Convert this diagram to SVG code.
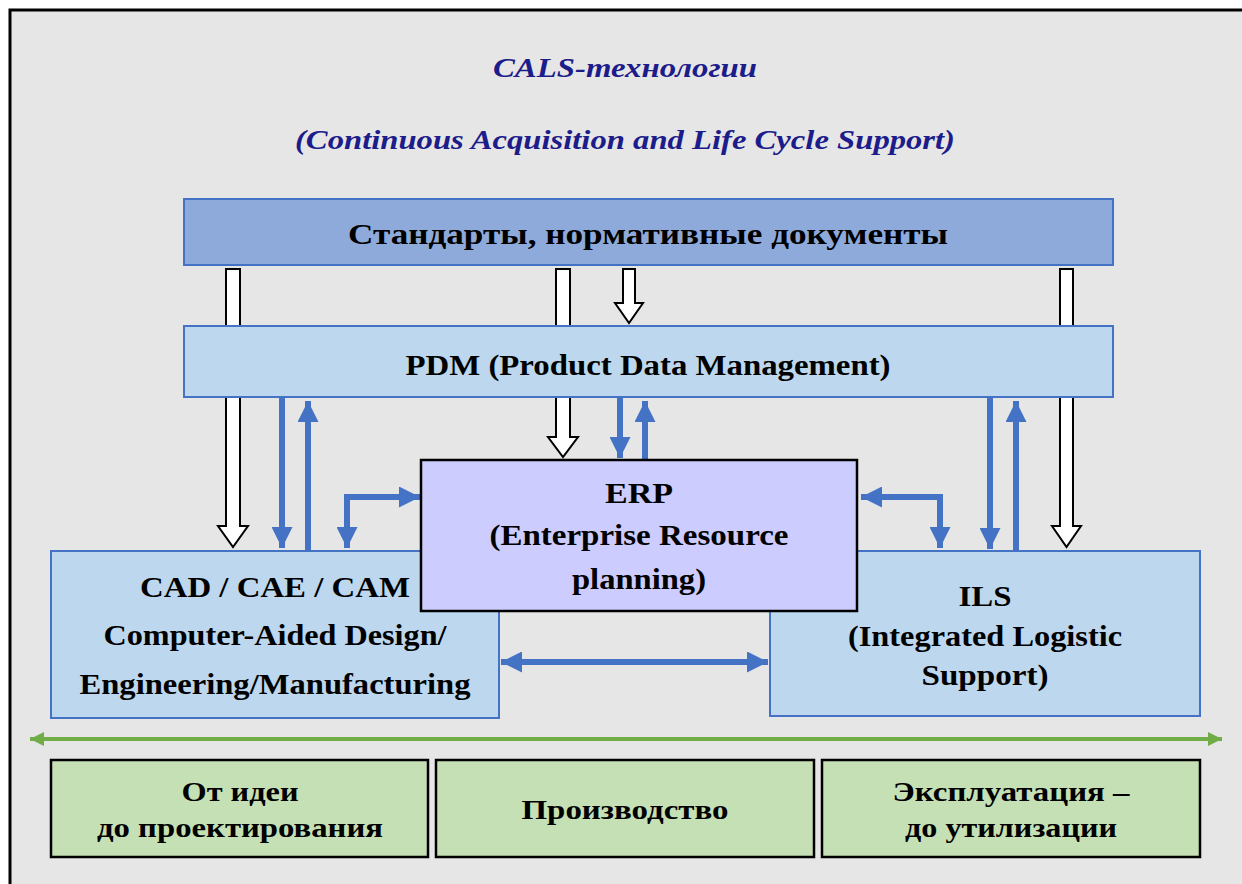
<svg xmlns="http://www.w3.org/2000/svg" width="1242" height="884" viewBox="0 0 1242 884">
<style>
text{font-family:"Liberation Serif","Times New Roman",serif;font-weight:bold;fill:#000;text-anchor:middle}
.title{font-style:italic;fill:#1c1c8a;font-size:28px}
.main{font-size:30px}
.bot{font-size:28px}
.blue{stroke:#4472c4;stroke-width:6;fill:none}
.hollow{fill:#fff;stroke:#000;stroke-width:2;stroke-linejoin:miter}
.nodeb{fill:#bdd7ee;stroke:#4472c4;stroke-width:2}
.green{fill:#c5e0b4;stroke:#000;stroke-width:2.5}
</style>
<defs>
<marker id="bh" viewBox="0 0 10 10" refX="10" refY="5" markerUnits="userSpaceOnUse" markerWidth="21" markerHeight="21" orient="auto-start-reverse">
<path d="M0,0 L10,5 L0,10 Z" fill="#4472c4"/>
</marker>
<marker id="gh" viewBox="0 0 10 10" refX="10" refY="5" markerUnits="userSpaceOnUse" markerWidth="14" markerHeight="14" orient="auto-start-reverse">
<path d="M0,0 L10,5 L0,10 Z" fill="#70ad47"/>
</marker>
</defs>
<rect x="0" y="0" width="1242" height="884" fill="#fff"/>
<rect x="10" y="10" width="1240" height="880" fill="#e7e6e6" stroke="#000" stroke-width="3"/>

<g id="title">
<text class="title" x="625" y="77" textLength="264" lengthAdjust="spacingAndGlyphs">CALS-технологии</text>
<text class="title" x="625" y="149" textLength="660" lengthAdjust="spacingAndGlyphs">(Continuous Acquisition and Life Cycle Support)</text>
</g>

<g id="connectors">
<path class="hollow" d="M226,269 H240 V526 H248 L233,547 L218,526 H226 Z"/>
<path class="hollow" d="M556,269 H570 V437 H578 L563,457 L548,437 H556 Z"/>
<path class="hollow" d="M623,269 H635 V303 H643 L629,323 L615,303 H623 Z"/>
<path class="hollow" d="M1060,269 H1073 V526 H1081 L1066.5,547 L1052,526 H1060 Z"/>
<line class="blue" x1="282" y1="398" x2="282" y2="548" marker-end="url(#bh)"/>
<line class="blue" x1="308" y1="550" x2="308" y2="401" marker-end="url(#bh)"/>
<polyline class="blue" points="347,548 347,497 420,497" marker-start="url(#bh)" marker-end="url(#bh)"/>
<line class="blue" x1="620" y1="398" x2="620" y2="458" marker-end="url(#bh)"/>
<line class="blue" x1="645" y1="460" x2="645" y2="401" marker-end="url(#bh)"/>
<polyline class="blue" points="861,497 940,497 940,548" marker-start="url(#bh)" marker-end="url(#bh)"/>
<line class="blue" x1="990" y1="398" x2="990" y2="549" marker-end="url(#bh)"/>
<line class="blue" x1="1016" y1="551" x2="1016" y2="401" marker-end="url(#bh)"/>
<line class="blue" x1="501" y1="662" x2="768" y2="662" marker-start="url(#bh)" marker-end="url(#bh)"/>
<line x1="30" y1="739" x2="1222" y2="739" stroke="#70ad47" stroke-width="4" marker-start="url(#gh)" marker-end="url(#gh)"/>
</g>

<g id="standards">
<rect x="184" y="199" width="929" height="66" fill="#8eaadb" stroke="#4472c4" stroke-width="2"/>
<text class="main" x="648" y="244" textLength="600" lengthAdjust="spacingAndGlyphs">Стандарты,  нормативные документы</text>
</g>

<g id="pdm">
<rect class="nodeb" x="184" y="326" width="929" height="71"/>
<text class="main" x="648" y="375" textLength="485" lengthAdjust="spacingAndGlyphs">PDM (Product Data Management)</text>
</g>

<g id="cad">
<rect class="nodeb" x="51" y="551" width="448" height="167"/>
<text class="main" x="275" y="597" textLength="270" lengthAdjust="spacingAndGlyphs">CAD / CAE / CAM</text>
<text class="main" x="275" y="645" textLength="343" lengthAdjust="spacingAndGlyphs">Computer-Aided Design/</text>
<text class="main" x="275" y="694" textLength="391" lengthAdjust="spacingAndGlyphs">Engineering/Manufacturing</text>
</g>

<g id="ils">
<rect class="nodeb" x="770" y="551" width="430" height="165"/>
<text class="main" x="985" y="606" textLength="53" lengthAdjust="spacingAndGlyphs">ILS</text>
<text class="main" x="985" y="646" textLength="274" lengthAdjust="spacingAndGlyphs">(Integrated Logistic</text>
<text class="main" x="985" y="685" textLength="127" lengthAdjust="spacingAndGlyphs">Support)</text>
</g>

<g id="erp">
<rect x="421" y="460" width="436" height="151" fill="#ccccff" stroke="#000" stroke-width="2.5"/>
<text class="main" x="639" y="503" textLength="68" lengthAdjust="spacingAndGlyphs">ERP</text>
<text class="main" x="639" y="545" textLength="299" lengthAdjust="spacingAndGlyphs">(Enterprise Resource</text>
<text class="main" x="639" y="589" textLength="134" lengthAdjust="spacingAndGlyphs">planning)</text>
</g>

<g id="stage1">
<rect class="green" x="51" y="760" width="377" height="97"/>
<text class="bot" x="240" y="801" textLength="117" lengthAdjust="spacingAndGlyphs">От идеи</text>
<text class="bot" x="240" y="837" textLength="286" lengthAdjust="spacingAndGlyphs">до проектирования</text>
</g>

<g id="stage2">
<rect class="green" x="436" y="760" width="378" height="97"/>
<text class="bot" x="625" y="819" textLength="207" lengthAdjust="spacingAndGlyphs">Производство</text>
</g>

<g id="stage3">
<rect class="green" x="822" y="760" width="378" height="97"/>
<text class="bot" x="1011" y="801" textLength="237" lengthAdjust="spacingAndGlyphs">Эксплуатация –</text>
<text class="bot" x="1011" y="837" textLength="212" lengthAdjust="spacingAndGlyphs">до утилизации</text>
</g>
</svg>
